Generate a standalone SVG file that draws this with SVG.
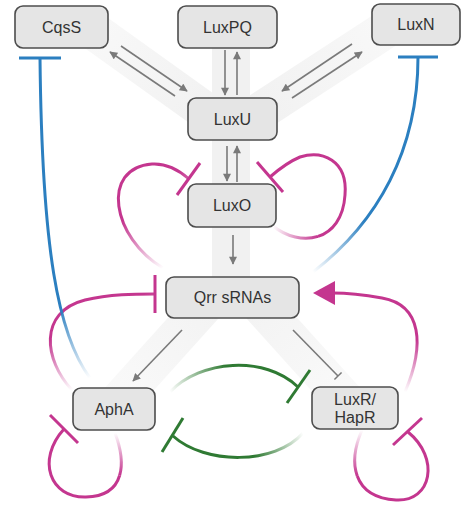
<svg xmlns="http://www.w3.org/2000/svg" width="463" height="509" viewBox="0 0 463 509">
<style>
.box{fill:#e5e5e5;stroke:#4d4d4d;stroke-width:1.6}
.lbl{font-family:"Liberation Sans",Arial,sans-serif;font-size:16px;fill:#333;text-anchor:middle}
.band{stroke-width:38;fill:none}
.ga{stroke:#7a7a7a;stroke-width:1.6;fill:none}
.mg{stroke-width:3;fill:none;stroke-linecap:butt}
.bar{stroke-width:3;fill:none}
</style>
<defs>
<marker id="ah" viewBox="0 0 10 10" refX="9" refY="5" markerWidth="9" markerHeight="8" orient="auto" markerUnits="userSpaceOnUse">
<path d="M0,0 L10,5 L0,10 z" fill="#7a7a7a"/>
</marker>
<marker id="tb" viewBox="0 0 4 10" refX="2" refY="5" markerWidth="4" markerHeight="10" orient="auto" markerUnits="userSpaceOnUse">
<path d="M2,0 L2,10" stroke="#7a7a7a" stroke-width="1.5"/>
</marker>
<linearGradient id="bd1" gradientUnits="userSpaceOnUse" x1="215" y1="118" x2="95" y2="32"><stop offset="0" stop-color="#f1f1f1"/><stop offset="1" stop-color="#f8f8f8"/></linearGradient>
<linearGradient id="bd2" gradientUnits="userSpaceOnUse" x1="250" y1="118" x2="385" y2="30"><stop offset="0" stop-color="#f1f1f1"/><stop offset="1" stop-color="#f8f8f8"/></linearGradient>
<linearGradient id="bd3" gradientUnits="userSpaceOnUse" x1="205" y1="305" x2="115" y2="405"><stop offset="0" stop-color="#f3f3f3"/><stop offset="1" stop-color="#fafafa"/></linearGradient>
<linearGradient id="bd4" gradientUnits="userSpaceOnUse" x1="260" y1="305" x2="350" y2="405"><stop offset="0" stop-color="#f3f3f3"/><stop offset="1" stop-color="#fafafa"/></linearGradient>
<linearGradient id="gM1" gradientUnits="userSpaceOnUse" x1="163" y1="268" x2="122" y2="222"><stop offset="0" stop-color="#c4368f" stop-opacity="0"/><stop offset="1" stop-color="#c4368f"/></linearGradient>
<linearGradient id="gM2" gradientUnits="userSpaceOnUse" x1="273" y1="226" x2="318" y2="236"><stop offset="0" stop-color="#c4368f" stop-opacity="0"/><stop offset="1" stop-color="#c4368f"/></linearGradient>
<linearGradient id="gM3" gradientUnits="userSpaceOnUse" x1="72" y1="390" x2="48" y2="340"><stop offset="0" stop-color="#c4368f" stop-opacity="0"/><stop offset="1" stop-color="#c4368f"/></linearGradient>
<linearGradient id="gM4" gradientUnits="userSpaceOnUse" x1="405" y1="392" x2="418" y2="340"><stop offset="0" stop-color="#c4368f" stop-opacity="0"/><stop offset="1" stop-color="#c4368f"/></linearGradient>
<linearGradient id="gM5" gradientUnits="userSpaceOnUse" x1="115" y1="433" x2="120" y2="475"><stop offset="0" stop-color="#c4368f" stop-opacity="0"/><stop offset="1" stop-color="#c4368f"/></linearGradient>
<linearGradient id="gM6" gradientUnits="userSpaceOnUse" x1="362" y1="430" x2="357" y2="476"><stop offset="0" stop-color="#c4368f" stop-opacity="0"/><stop offset="1" stop-color="#c4368f"/></linearGradient>
<linearGradient id="gG1" gradientUnits="userSpaceOnUse" x1="170" y1="392" x2="225" y2="365"><stop offset="0" stop-color="#2f7a33" stop-opacity="0"/><stop offset="1" stop-color="#2f7a33"/></linearGradient>
<linearGradient id="gG2" gradientUnits="userSpaceOnUse" x1="303" y1="433" x2="255" y2="457"><stop offset="0" stop-color="#2f7a33" stop-opacity="0"/><stop offset="1" stop-color="#2f7a33"/></linearGradient>
<linearGradient id="gB1" gradientUnits="userSpaceOnUse" x1="90" y1="378" x2="55" y2="310"><stop offset="0" stop-color="#2b7fc0" stop-opacity="0"/><stop offset="1" stop-color="#2b7fc0"/></linearGradient>
<linearGradient id="gB2" gradientUnits="userSpaceOnUse" x1="313" y1="272" x2="365" y2="222"><stop offset="0" stop-color="#2b7fc0" stop-opacity="0"/><stop offset="1" stop-color="#2b7fc0"/></linearGradient>
</defs>
<rect width="463" height="509" fill="#fff"/>
<g id="bands">
<line class="band" stroke="url(#bd3)" x1="205" y1="305" x2="115" y2="405"/>
<line class="band" stroke="url(#bd4)" x1="260" y1="305" x2="350" y2="405"/>
<line class="band" stroke="url(#bd1)" x1="95" y1="32" x2="215" y2="118"/>
<line class="band" stroke="url(#bd2)" x1="385" y1="30" x2="250" y2="118"/>
<line class="band" stroke="#f1f1f1" x1="231" y1="48" x2="231" y2="300"/>
</g>
<g id="connectors">
<line class="ga" x1="175" y1="96" x2="110" y2="52" marker-end="url(#ah)"/>
<line class="ga" x1="121" y1="46" x2="187" y2="91" marker-end="url(#ah)"/>
<line class="ga" x1="225" y1="50" x2="225" y2="95" marker-end="url(#ah)"/>
<line class="ga" x1="237" y1="95" x2="237" y2="52" marker-end="url(#ah)"/>
<line class="ga" x1="292" y1="98" x2="362" y2="52" marker-end="url(#ah)"/>
<line class="ga" x1="352" y1="44" x2="282" y2="91" marker-end="url(#ah)"/>
<line class="ga" x1="227" y1="146" x2="227" y2="181" marker-end="url(#ah)"/>
<line class="ga" x1="237" y1="182" x2="237" y2="146" marker-end="url(#ah)"/>
<line class="ga" x1="233" y1="235" x2="233" y2="264" marker-end="url(#ah)"/>
<line class="ga" x1="182" y1="330" x2="133" y2="381" marker-end="url(#ah)"/>
<line class="ga" x1="293" y1="330" x2="338" y2="376" marker-end="url(#tb)"/>
<path class="mg" stroke="url(#gM1)" d="M163,268 C112,238 100,168 152,164 C168,163 180,171 189,179"/>
<line class="bar" stroke="#c4368f" x1="177" y1="195" x2="200" y2="163"/>
<path class="mg" stroke="url(#gM2)" d="M273,226 C286.5,237 303.75,241 318,236.4"/>
<path class="mg" stroke="#c4368f" d="M318,236.4 C332.25,231.75 343.5,218.5 345,195 C348,160 322,150 300,157 C288,162 278,170 270,177"/>
<line class="bar" stroke="#c4368f" x1="257" y1="162" x2="283" y2="192"/>
<path class="mg" stroke="url(#gM3)" d="M72,390 C44,360 38,312 85,300 C110,294 135,294 155,294"/>
<line class="bar" stroke="#c4368f" x1="155" y1="275" x2="155" y2="313"/>
<path class="mg" stroke="url(#gM4)" d="M405,392 C425,345 422,305 382,298 C365,295 350,293 333,293"/>
<path fill="#c4368f" d="M313,293 L335,281 L335,305 z"/>
<path class="mg" stroke="url(#gM5)" d="M115,433 C120.5,447.5 123.25,463.25 119.6,475.5"/>
<path class="mg" stroke="#c4368f" d="M119.6,475.5 C116,487.75 106,496.5 86,497 C50,498 36,460 64,429"/>
<line class="bar" stroke="#c4368f" x1="50" y1="415" x2="78" y2="443"/>
<path class="mg" stroke="url(#gM6)" d="M362,430 C355,446 352.5,462.75 357.25,475.9"/>
<path class="mg" stroke="#c4368f" d="M357.25,475.9 C362,489 374,498.5 396,500 C432,502 440,458 408,432"/>
<line class="bar" stroke="#c4368f" x1="393" y1="445" x2="422" y2="418"/>
<path class="mg" stroke="url(#gG1)" d="M170,392 C200,360 265,355 298,387"/>
<line class="bar" stroke="#2f7a33" x1="287" y1="403" x2="310" y2="370"/>
<path class="mg" stroke="url(#gG2)" d="M303,433 C275,465 205,465 173,436"/>
<line class="bar" stroke="#2f7a33" x1="162" y1="452" x2="183" y2="418"/>
<path class="mg" stroke="url(#gB1)" d="M90,378 C58,335 42,250 40,58"/>
<line class="bar" stroke="#2b7fc0" x1="19" y1="58" x2="61" y2="58"/>
<path class="mg" stroke="url(#gB2)" d="M313,272 C378,222 418,150 418,57"/>
<line class="bar" stroke="#2b7fc0" x1="398" y1="57" x2="438" y2="57"/>
</g>
<g id="CqsS"><rect class="box" x="15" y="6" width="93" height="42" rx="8"/><text class="lbl" x="61.5" y="33">CqsS</text></g>
<g id="LuxPQ"><rect class="box" x="178" y="6" width="99" height="42" rx="8"/><text class="lbl" x="227.5" y="33">LuxPQ</text></g>
<g id="LuxN"><rect class="box" x="372" y="4" width="88" height="41" rx="8"/><text class="lbl" x="416" y="30">LuxN</text></g>
<g id="LuxU"><rect class="box" x="188" y="98" width="89" height="42" rx="8"/><text class="lbl" x="232.5" y="125">LuxU</text></g>
<g id="LuxO"><rect class="box" x="188" y="184" width="88" height="43" rx="8"/><text class="lbl" x="232" y="211">LuxO</text></g>
<g id="Qrr"><rect class="box" x="166" y="277" width="133" height="41" rx="8"/><text class="lbl" x="232.5" y="303">Qrr sRNAs</text></g>
<g id="AphA"><rect class="box" x="73" y="388" width="82" height="42" rx="8"/><text class="lbl" x="114" y="415">AphA</text></g>
<g id="LuxR"><rect class="box" x="312" y="387" width="86" height="42" rx="8"/><text class="lbl" x="355" y="405">LuxR/</text><text class="lbl" x="355" y="423">HapR</text></g>
</svg>
